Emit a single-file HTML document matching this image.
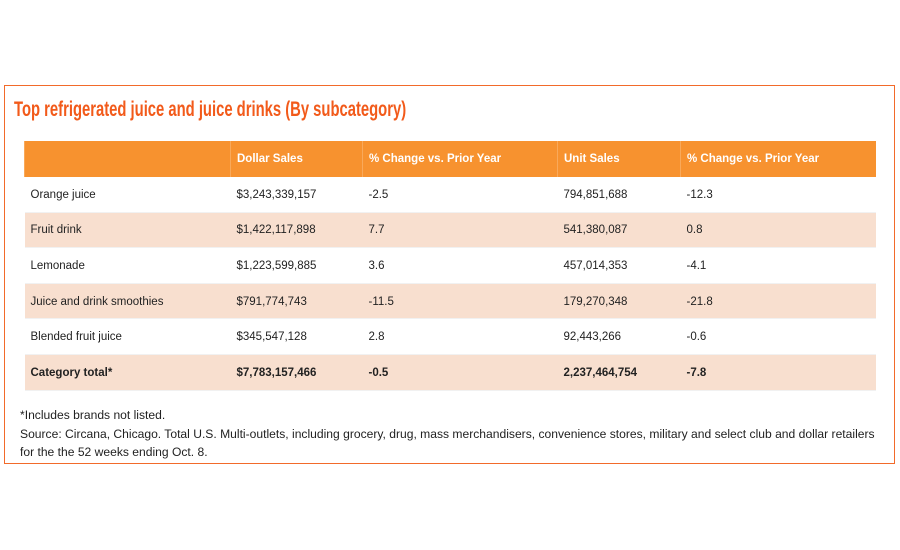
<!DOCTYPE html>
<html><head><meta charset="utf-8"><style>
body{margin:0;width:900px;height:550px;background:#fff;font-family:"Liberation Sans",sans-serif;position:relative;overflow:hidden}
#box{position:absolute;left:4px;top:85px;width:889px;height:377px;border:1.5px solid #f26a2a}
#title{position:absolute;left:14px;top:98px;font-family:"Liberation Sans Narrow","Liberation Sans",sans-serif;font-weight:bold;font-size:21px;color:#f25a1a;white-space:nowrap;transform:scaleX(0.705);transform-origin:left}
table{position:absolute;left:24px;top:141px;width:852px;border-collapse:collapse;font-size:11.5px;color:#222}
td,th{padding:1px 0 0 6px;height:35.6px;text-align:left;box-sizing:border-box}
th{background:#f7922f;color:#fff;font-weight:bold;border-left:1px solid #f9a95a}
tr.alt td{background:#f8dfcf}
td{border-bottom:1px solid #f1f1f1}
tr.tot td{font-weight:bold;background:#f8dfcf}
#notes{position:absolute;left:20px;top:406px;font-size:12.1px;color:#222;line-height:18.5px;white-space:nowrap}
</style></head><body>
<div id="box"></div>
<div id="title">Top refrigerated juice and juice drinks (By subcategory)</div>
<table>
<colgroup><col style="width:206px"><col style="width:132px"><col style="width:195px"><col style="width:123px"><col></colgroup>
<tr><th></th><th>Dollar Sales</th><th>% Change vs. Prior Year</th><th>Unit Sales</th><th>% Change vs. Prior Year</th></tr>
<tr><td>Orange juice</td><td>$3,243,339,157</td><td>-2.5</td><td>794,851,688</td><td>-12.3</td></tr>
<tr class="alt"><td>Fruit drink</td><td>$1,422,117,898</td><td>7.7</td><td>541,380,087</td><td>0.8</td></tr>
<tr><td>Lemonade</td><td>$1,223,599,885</td><td>3.6</td><td>457,014,353</td><td>-4.1</td></tr>
<tr class="alt"><td>Juice and drink smoothies</td><td>$791,774,743</td><td>-11.5</td><td>179,270,348</td><td>-21.8</td></tr>
<tr><td>Blended fruit juice</td><td>$345,547,128</td><td>2.8</td><td>92,443,266</td><td>-0.6</td></tr>
<tr class="tot"><td>Category total*</td><td>$7,783,157,466</td><td>-0.5</td><td>2,237,464,754</td><td>-7.8</td></tr>
</table>
<div id="notes">*Includes brands not listed.<br>Source: Circana, Chicago. Total U.S. Multi-outlets, including grocery, drug, mass merchandisers, convenience stores, military and select club and dollar retailers<br>for the the 52 weeks ending Oct. 8.</div>
</body></html>
